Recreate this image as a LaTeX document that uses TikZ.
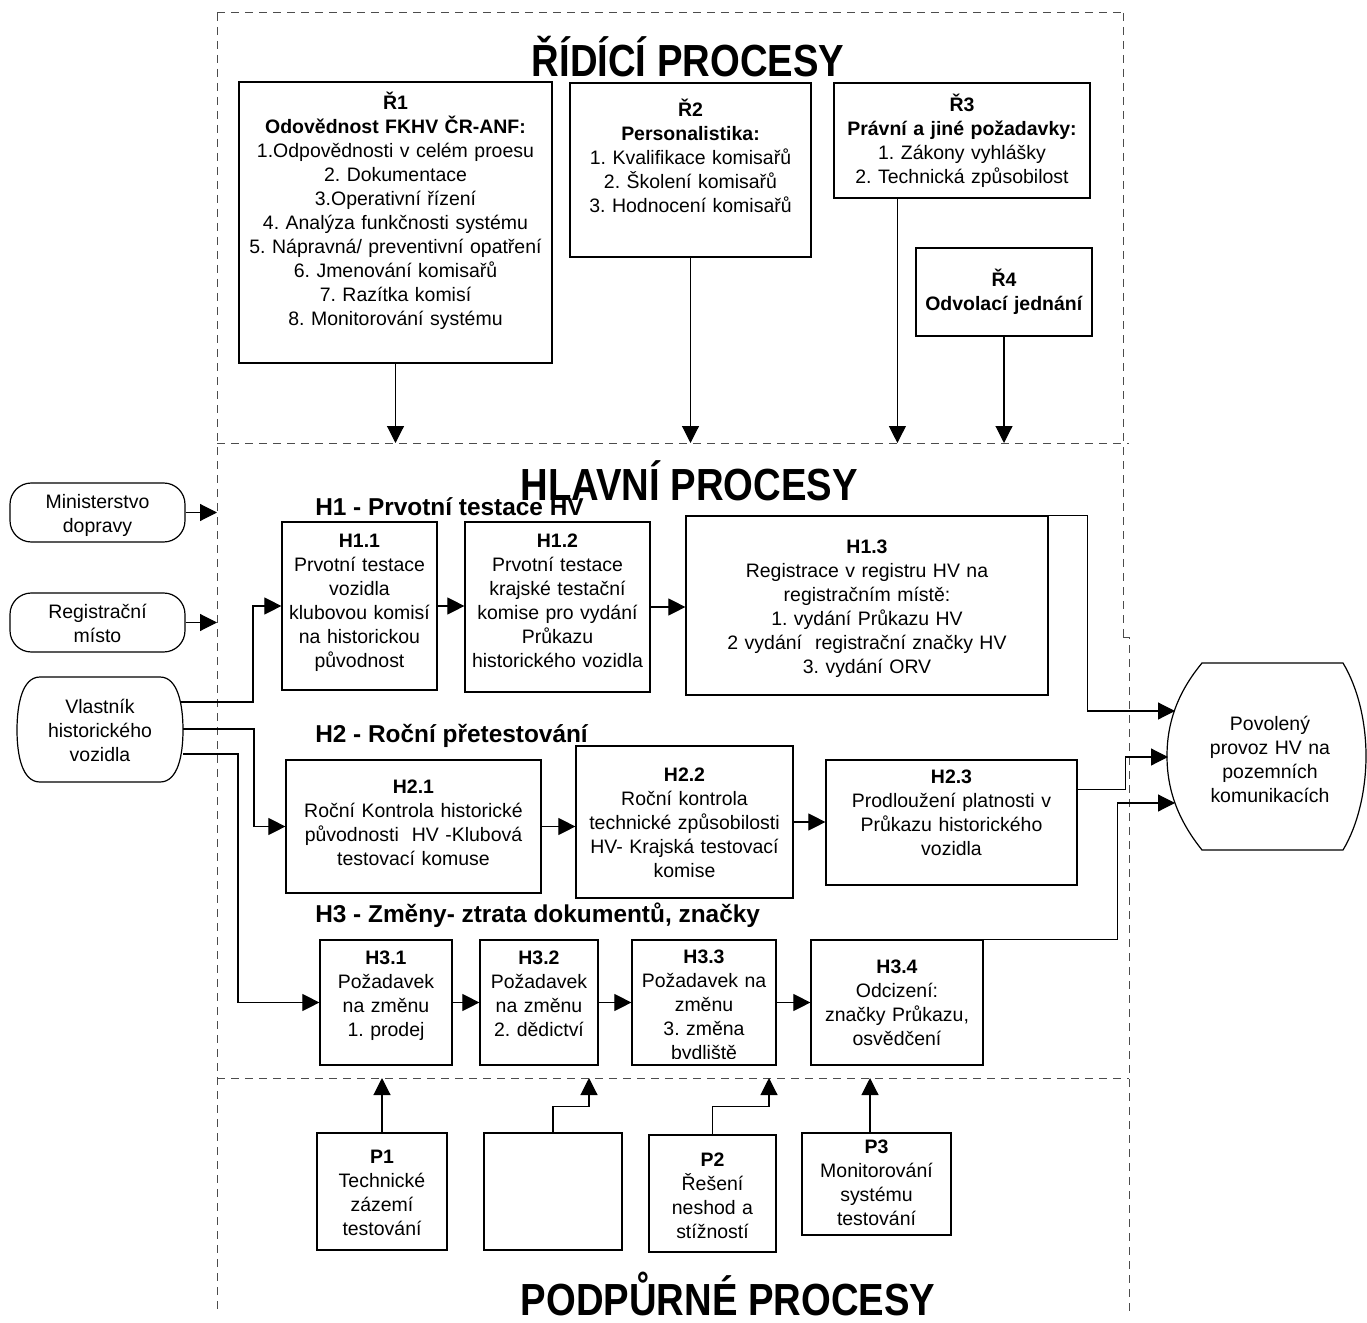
\documentclass[tikz,border=0pt]{standalone}
\usepackage{fontspec}
\setmainfont{Liberation Sans}
\usepackage{graphicx}
\usetikzlibrary{arrows.meta,fit}

\newcommand{\bodyfont}{\fontsize{14.6pt}{18pt}\selectfont\frenchspacing}
\newcommand{\subfont}{\fontsize{18.3pt}{22pt}\selectfont\bfseries\frenchspacing}
\newcommand{\titlefont}{\fontsize{33.75pt}{40pt}\selectfont\bfseries}
\newcommand{\ttlbox}[1]{\scalebox{0.85}[1]{#1}}

\tikzset{
  box/.style={draw=black, line width=0.9pt, inner sep=0pt},
  shp/.style={draw=black, line width=0.9pt, inner sep=0pt},
  txt/.style={inner sep=0pt, align=center, text width=330pt, font=\bodyfont, anchor=base},
  arr/.style={draw=black, line width=0.85pt, -{Triangle[length=12.75pt,width=12.75pt]}},
  dline/.style={draw=black!70, line width=0.75pt, dash pattern=on 6pt off 4.5pt},
  ttl/.style={inner sep=0pt, font=\titlefont, anchor=base},
  sub/.style={inner sep=0pt, font=\subfont, anchor=base west},
}

\begin{document}
\frenchspacing
\begin{tikzpicture}[x=0.75pt,y=-0.75pt]
\useasboundingbox (0,0) rectangle (1367,1323);
\fill[white] (0,0) rectangle (1367,1323);

% ---------- dashed frame ----------
\draw[dline] (217,13) -- (1123,13);
\draw[dline] (217,13) -- (217,1311);
\draw[dline] (1123,13) -- (1123,637);
\draw[dline] (1123,637) -- (1129,637) -- (1129,1311);
\draw[dline] (217,443) -- (1129,443);
\draw[dline] (217,1078) -- (1129,1078);
\coordinate (dtop) at (0,443);
\coordinate (dbot) at (0,1078);
\coordinate (dleft) at (217,0);

% ---------- titles ----------
\node[ttl] (tR) at (688,77) {\ttlbox{ŘÍDÍCÍ PROCESY}};
\node[ttl] (tH) at (689,500) {\ttlbox{HLAVNÍ PROCESY}};
\node[ttl] (tP) at (728,1315) {\ttlbox{PODPŮRNÉ PROCESY}};

% ---------- Řídící procesy ----------
\node[box, fit={(239,82) (552,363)}] (r1) {};
\node[txt] (r1t) at (395.5,109.5) {\textbf{Ř1}\\\textbf{Odovědnost FKHV ČR-ANF:}\\1.Odpovědnosti v celém proesu\\2. Dokumentace\\3.Operativní řízení\\4. Analýza funkčnosti systému\\5. Nápravná/ preventivní opatření\\6. Jmenování komisařů\\7. Razítka komisí\\8. Monitorování systému};

\node[box, fit={(570,83) (811,257)}] (r2) {};
\node[txt] (r2t) at (690.5,116.5) {\textbf{Ř2}\\\textbf{Personalistika:}\\1. Kvalifikace komisařů\\2. Školení komisařů\\3. Hodnocení komisařů};

\node[box, fit={(834,83) (1090,198)}] (r3) {};
\node[txt] (r3t) at (962,111.5) {\textbf{Ř3}\\\textbf{Právní a jiné požadavky:}\\1. Zákony vyhlášky\\2. Technická způsobilost};

\node[box, fit={(916,248) (1092,336)}] (r4) {};
\node[txt] (r4t) at (1004,286.5) {\textbf{Ř4}\\\textbf{Odvolací jednání}};

\draw[arr] (r1.south) -- (r1.south |- dtop);
\draw[arr] (r2.south) -- (r2.south |- dtop);
\path ([xshift=48pt]r3.south west) coordinate (r3o);
\draw[arr] (r3o) -- (r3o |- dtop);
\draw[arr] (r4.south) -- (r4.south |- dtop);

% ---------- external entities ----------
\node[shp, rounded corners=16pt, fit={(10,483) (185,542)}] (mdop) {};
\node[txt] (mdopt) at (97.5,508.5) {Ministerstvo\\dopravy};
\node[shp, rounded corners=16pt, fit={(10,593) (185,652)}] (rmis) {};
\node[txt] (rmist) at (97.5,618.5) {Registrační\\místo};
\draw[arr] (mdop.east) -- (mdop.east -| dleft);
\draw[arr] (rmis.east) -- (rmis.east -| dleft);

\draw[shp] (40,677) -- (160,677) .. controls (178,677) and (183,705) .. (183,730)
  .. controls (183,755) and (178,782) .. (160,782) -- (40,782)
  .. controls (22,782) and (17,755) .. (17,730)
  .. controls (17,705) and (22,677) .. (40,677) -- cycle;
\node[txt] (vlas) at (100,713.5) {Vlastník\\historického\\vozidla};
\coordinate (vl1) at (180,702);
\coordinate (vl2) at (183,729);
\coordinate (vl3) at (183,754);

\draw[shp] (1202,663) -- (1343,663) .. controls (1358,688) and (1366,722) .. (1366,756)
  .. controls (1366,790) and (1358,825) .. (1343,850) -- (1202,850)
  .. controls (1178,820) and (1167,790) .. (1167,756)
  .. controls (1167,722) and (1178,692) .. (1202,663) -- cycle;
\node[txt] (pov) at (1270,730.5) {Povolený\\provoz HV na\\pozemních\\komunikacích};
\coordinate (povA) at (1175,711);
\coordinate (povB) at (1168,757);
\coordinate (povC) at (1175,803);

% ---------- Hlavní procesy ----------
\node[sub] (h1h) at (315,515) {H1 - Prvotní testace HV};
\node[sub] (h2h) at (315,742) {H2 - Roční přetestování};
\node[sub] (h3h) at (315,922) {H3 - Změny- ztrata dokumentů, značky};

\node[box, fit={(282,522) (437,690)}] (h11) {};
\node[txt] (h11t) at (359.5,547) {\textbf{H1.1}\\Prvotní testace\\vozidla\\klubovou komisí\\na historickou\\původnost};
\node[box, fit={(465,522) (650,692)}] (h12) {};
\node[txt] (h12t) at (557.5,547) {\textbf{H1.2}\\Prvotní testace\\krajské testační\\komise pro vydání\\Průkazu\\historického vozidla};
\node[box, fit={(686,516) (1048,695)}] (h13) {};
\node[txt] (h13t) at (867,553.5) {\textbf{H1.3}\\Registrace v registru HV na\\registračním místě:\\1. vydání Průkazu HV\\2 vydání\ \ registrační značky HV\\3. vydání ORV};

\node[box, fit={(286,760) (541,893)}] (h21) {};
\node[txt] (h21t) at (413.5,793.5) {\textbf{H2.1}\\Roční Kontrola historické\\původnosti\ \ HV -Klubová\\testovací komuse};
\node[box, fit={(576,746) (793,898)}] (h22) {};
\node[txt] (h22t) at (684.5,781.5) {\textbf{H2.2}\\Roční kontrola\\technické způsobilosti\\HV- Krajská testovací\\komise};
\node[box, fit={(826,760) (1077,885)}] (h23) {};
\node[txt] (h23t) at (951.5,783.5) {\textbf{H2.3}\\Prodloužení platnosti v\\Průkazu historického\\vozidla};

\node[box, fit={(320,940) (452,1065)}] (h31) {};
\node[txt] (h31t) at (386,964.5) {\textbf{H3.1}\\Požadavek\\na změnu\\1. prodej};
\node[box, fit={(480,940) (598,1065)}] (h32) {};
\node[txt] (h32t) at (539,964.5) {\textbf{H3.2}\\Požadavek\\na změnu\\2. dědictví};
\node[box, fit={(632,940) (776,1065)}] (h33) {};
\begin{scope}
  \clip (632,940) rectangle (776,1058);
  \node[txt] (h33t) at (704,963.5) {\textbf{H3.3}\\Požadavek na\\změnu\\3. změna\\bydliště};
\end{scope}
\node[box, fit={(811,940) (983,1065)}] (h34) {};
\node[txt] (h34t) at (897,973.5) {\textbf{H3.4}\\Odcizení:\\značky Průkazu,\\osvědčení};

% H connectors
\draw[arr] (vl1) -- ++(73,0) |- (h11.west);
\draw[arr] (h11.east) -- (h11.east -| h12.west);
\draw[arr] (h12.east) -- (h12.east -| h13.west);
\draw[arr] (h13.north east) -- ++(39,0) |- (povA);

\draw[arr] (vl2) -- ++(71,0) |- (h21.west);
\draw[arr] (h21.east) -- (h21.east -| h22.west);
\draw[arr] (h22.east) -- (h22.east -| h23.west);
\draw[arr] ([yshift=-22.5pt]h23.north east) -- ++(48,0) |- (povB);

\draw[arr] (vl3) -- ++(55,0) |- (h31.west);
\draw[arr] (h31.east) -- (h31.east -| h32.west);
\draw[arr] (h32.east) -- (h32.east -| h33.west);
\draw[arr] (h33.east) -- (h33.east -| h34.west);
\draw[arr] (h34.north east) -- ++(134,0) |- (povC);

% ---------- Podpůrné procesy ----------
\node[box, fit={(317,1133) (447,1250)}] (p1) {};
\node[txt] (p1t) at (382,1163.5) {\textbf{P1}\\Technické\\zázemí\\testování};
\node[box, fit={(484,1133) (622,1250)}] (pe) {};
\node[box, fit={(649,1135) (776,1252)}] (p2) {};
\node[txt] (p2t) at (712.5,1166.5) {\textbf{P2}\\Řešení\\neshod a\\stížností};
\node[box, fit={(802,1133) (951,1235)}] (p3) {};
\node[txt] (p3t) at (876.5,1153.5) {\textbf{P3}\\Monitorování\\systému\\testování};

\coordinate (a32) at (589,1078);
\coordinate (a33) at (769,1078);
\coordinate (a34) at (870,1078);
\draw[arr] (p1.north) -- (p1.north |- dbot);
\draw[arr] (pe.north) -- ++(0,-26) -| (a32);
\draw[arr] (p2.north) -- ++(0,-28) -| (a33);
\draw[arr] (p3.north -| a34) -- (a34);
\end{tikzpicture}
\end{document}
